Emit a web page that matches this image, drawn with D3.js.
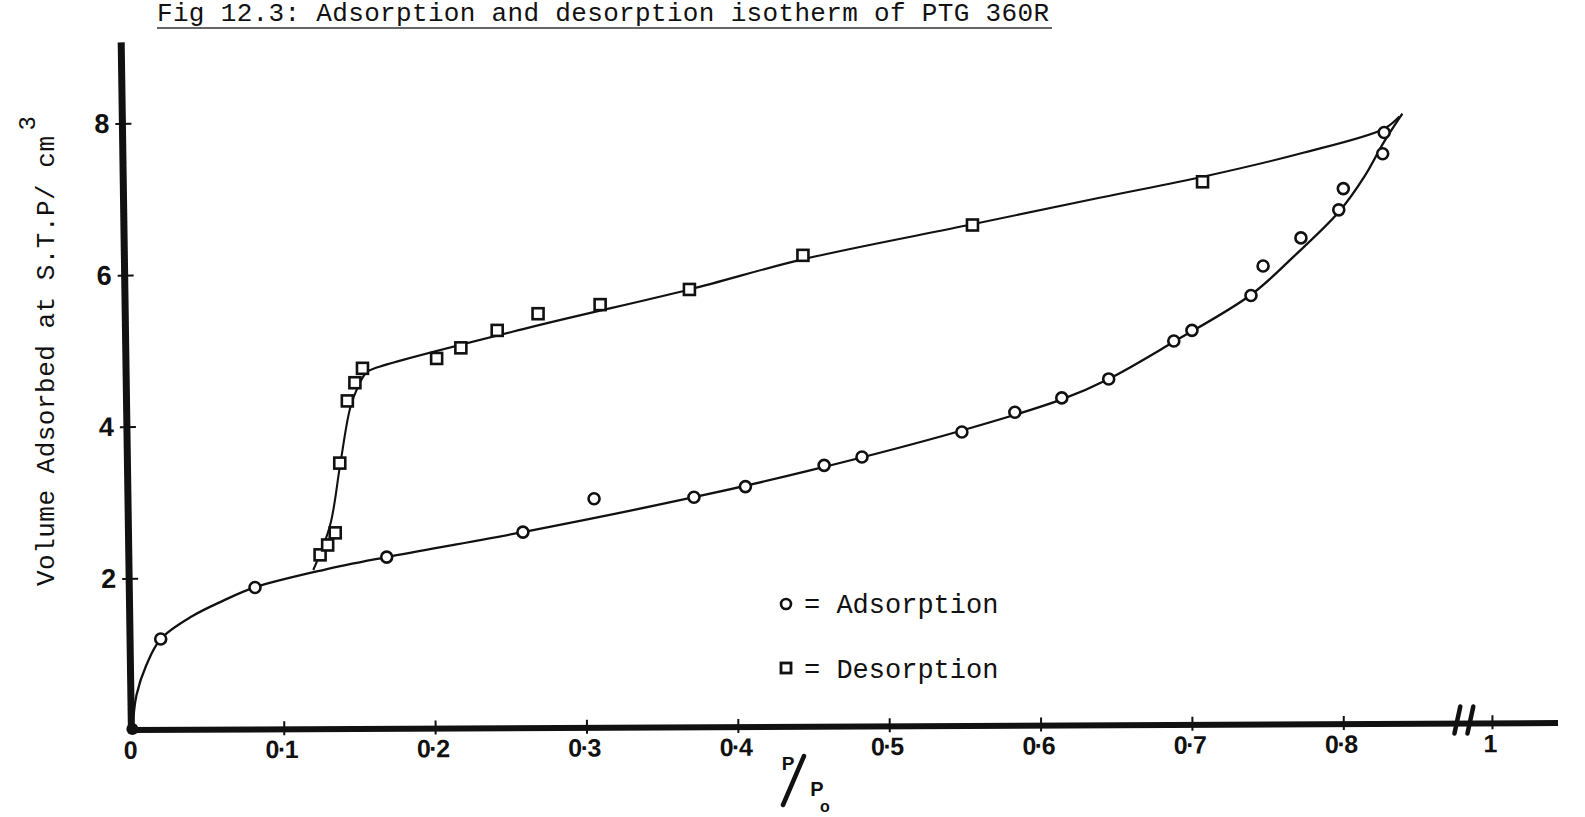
<!DOCTYPE html>
<html>
<head>
<meta charset="utf-8">
<script src="https://cdn.jsdelivr.net/npm/d3@7/dist/d3.min.js"></script>
<style>
  body { margin: 0; background: #fff; }
</style>
</head>
<body>
<div id="chart"></div>
<script>
// measured points, P/Po against volume adsorbed
var adsX = [0.0187, 0.081, 0.168, 0.258, 0.305, 0.371, 0.405, 0.457, 0.482, 0.548, 0.583, 0.614, 0.645, 0.688, 0.700, 0.739, 0.747, 0.772, 0.797, 0.800, 0.826, 0.827];
var adsY = [1.20, 1.88, 2.28, 2.61, 3.05, 3.07, 3.21, 3.49, 3.60, 3.93, 4.19, 4.38, 4.63, 5.13, 5.27, 5.73, 6.12, 6.49, 6.86, 7.14, 7.60, 7.88];

var desX = [0.124, 0.129, 0.134, 0.137, 0.142, 0.147, 0.152, 0.201, 0.217, 0.241, 0.268, 0.309, 0.368, 0.443, 0.555, 0.707];
var desY = [2.31, 2.44, 2.60, 3.52, 4.34, 4.58, 4.77, 4.90, 5.04, 5.27, 5.49, 5.61, 5.81, 6.26, 6.66, 7.23];

// hand drawn curves through the points
var adsCurveX = [0, 0.0027, 0.0093, 0.0187, 0.0394, 0.0594, 0.0808, 0.126, 0.168, 0.258, 0.371, 0.447, 0.548, 0.614, 0.645, 0.688, 0.739, 0.767, 0.797, 0.814, 0.827, 0.839];
var adsCurveY = [0, 0.46, 0.86, 1.20, 1.50, 1.70, 1.88, 2.11, 2.28, 2.61, 3.07, 3.42, 3.95, 4.36, 4.63, 5.12, 5.74, 6.24, 6.83, 7.30, 7.76, 8.13];

var desCurveX = [0.1195, 0.1306, 0.1372, 0.1438, 0.1493, 0.1548, 0.1614, 0.2626, 0.368, 0.4434, 0.555, 0.639, 0.708, 0.771, 0.827, 0.837];
var desCurveY = [2.11, 2.70, 3.49, 4.24, 4.54, 4.72, 4.78, 5.31, 5.81, 6.21, 6.67, 7.02, 7.30, 7.60, 7.93, 8.09];

var xTicks = [0, 0.1, 0.2, 0.3, 0.4, 0.5, 0.6, 0.7, 0.8, 1];
var yTicks = [2, 4, 6, 8];

var width = 1585, height = 817;
var ink = "#111";

var svg = d3.select("#chart")
  .append("svg")
    .attr("width", width)
    .attr("height", height);

// x has a break between 0.88 and 1
var x = d3.scaleLinear()
  .domain([0, 0.88, 1])
  .range([132.4, 1464.4, 1492]);

var y = d3.scaleLinear()
  .domain([0, 8])
  .range([730, 123.4]);

var x0 = x(0), y0 = y(0);

// title
svg.append("text")
  .attr("x", 157)
  .attr("y", 21)
  .attr("font-family", "Liberation Mono, DejaVu Sans Mono, monospace")
  .attr("font-size", 26)
  .attr("textLength", 892)
  .attr("fill", ink)
  .text("Fig 12.3: Adsorption and desorption isotherm of PTG 360R");
svg.append("line")
  .attr("x1", 157).attr("x2", 1052)
  .attr("y1", 28).attr("y2", 28)
  .attr("stroke", "#333")
  .attr("stroke-width", 1.6);

// X axis (scan is tilted a little)
var gx = svg.append("g")
  .attr("transform", "rotate(-0.28," + x0 + "," + y0 + ")");

gx.append("line")
  .attr("x1", x0 - 2).attr("x2", 1558)
  .attr("y1", y0).attr("y2", y0)
  .attr("stroke", ink)
  .attr("stroke-width", 6);

var xAxis = gx.append("g")
  .attr("transform", "translate(0," + y0 + ")")
  .call(d3.axisBottom(x)
    .tickValues(xTicks)
    .tickSizeInner(-8)
    .tickSizeOuter(0)
    .tickPadding(11)
    .tickFormat(function(d) {
      if (d === 0) return "0";
      if (d === 1) return "1";
      return d3.format(".1f")(d).replace(".", "\u00b7");
    }));
xAxis.select(".domain").remove();
xAxis.selectAll(".tick line")
  .attr("stroke", ink)
  .attr("stroke-width", 2)
  .attr("y2", 6)
  .attr("y1", -8);
xAxis.selectAll(".tick text")
  .attr("font-family", "Liberation Sans, Arial, sans-serif")
  .attr("font-weight", "bold")
  .attr("font-size", 25)
  .attr("letter-spacing", -1.5)
  .attr("dx", -3)
  .attr("fill", ink);
xAxis.selectAll(".tick").filter(function(d) { return d === 0; }).select("line").remove();

// axis break marks
var xb = x(0.88);
[-7, 6].forEach(function(off) {
  gx.append("line")
    .attr("x1", xb + off - 3).attr("x2", xb + off + 3)
    .attr("y1", y0 + 10).attr("y2", y0 - 17)
    .attr("stroke", ink)
    .attr("stroke-width", 4.5)
    .attr("stroke-linecap", "round");
});

// Y axis
var gy = svg.append("g")
  .attr("transform", "rotate(-0.85," + x0 + "," + y0 + ")");

gy.append("line")
  .attr("x1", x0 - 1).attr("x2", x0 - 1)
  .attr("y1", y0 + 3).attr("y2", y(9.07))
  .attr("stroke", ink)
  .attr("stroke-width", 7);

var yAxis = gy.append("g")
  .attr("transform", "translate(" + (x0 - 1) + ",0)")
  .call(d3.axisLeft(y)
    .tickValues(yTicks)
    .tickSizeInner(7)
    .tickSizeOuter(0)
    .tickPadding(6)
    .tickFormat(d3.format("d")));
yAxis.select(".domain").remove();
yAxis.selectAll(".tick line")
  .attr("stroke", ink)
  .attr("stroke-width", 2)
  .attr("x2", 9)
  .attr("x1", -7);
yAxis.selectAll(".tick text")
  .attr("font-family", "Liberation Sans, Arial, sans-serif")
  .attr("font-weight", "bold")
  .attr("font-size", 27)
  .attr("fill", ink);

// Y axis title
var yt = svg.append("text")
  .attr("transform", "translate(54,586) rotate(-90)")
  .attr("font-family", "Liberation Mono, DejaVu Sans Mono, monospace")
  .attr("font-size", 26)
  .attr("fill", ink);
yt.append("tspan").attr("textLength", 450).text("Volume Adsorbed at S.T.P/ cm");
yt.append("tspan")
  .attr("dx", 5)
  .attr("dy", -19)
  .attr("font-size", 24)
  .text("3");

// X axis title P/Po
var pg = svg.append("g")
  .attr("font-family", "Liberation Sans, Arial, sans-serif")
  .attr("font-weight", "bold")
  .attr("fill", ink);
pg.append("text").attr("x", 788).attr("y", 770).attr("text-anchor", "middle")
  .attr("font-size", 19).text("P");
pg.append("line")
  .attr("x1", 783).attr("y1", 805).attr("x2", 804).attr("y2", 756)
  .attr("stroke", ink).attr("stroke-width", 4.5).attr("stroke-linecap", "round");
pg.append("text").attr("x", 817).attr("y", 796).attr("text-anchor", "middle")
  .attr("font-size", 20).text("P");
pg.append("text").attr("x", 825).attr("y", 812).attr("text-anchor", "middle")
  .attr("font-size", 16).text("o");

// curves
var adsCurve = adsCurveX.map(function(d, i) { return [d, adsCurveY[i]]; });
var desCurve = desCurveX.map(function(d, i) { return [d, desCurveY[i]]; });

var line = d3.line()
  .x(function(d) { return x(d[0]); })
  .y(function(d) { return y(d[1]); })
  .curve(d3.curveCatmullRom.alpha(0.5));

svg.append("path")
  .datum(adsCurve)
  .attr("fill", "none")
  .attr("stroke", ink)
  .attr("stroke-width", 2.3)
  .attr("d", line);

svg.append("path")
  .datum(desCurve)
  .attr("fill", "none")
  .attr("stroke", ink)
  .attr("stroke-width", 2.1)
  .attr("d", line);

// origin dot
svg.append("circle")
  .attr("cx", x0).attr("cy", y0 - 1).attr("r", 6)
  .attr("fill", ink);

// adsorption points
var ads = adsX.map(function(d, i) { return {x: d, y: adsY[i]}; });
svg.append("g").selectAll("circle")
  .data(ads)
  .enter().append("circle")
    .attr("cx", function(d) { return x(d.x); })
    .attr("cy", function(d) { return y(d.y); })
    .attr("r", 5.5)
    .attr("fill", "#fff")
    .attr("stroke", ink)
    .attr("stroke-width", 2.6);

// desorption points
var des = desX.map(function(d, i) { return {x: d, y: desY[i]}; });
svg.append("g").selectAll("rect")
  .data(des)
  .enter().append("rect")
    .attr("x", function(d) { return x(d.x) - 5.5; })
    .attr("y", function(d) { return y(d.y) - 5.5; })
    .attr("width", 11)
    .attr("height", 11)
    .attr("fill", "#fff")
    .attr("stroke", ink)
    .attr("stroke-width", 2.6);

// legend
var legend = svg.append("g")
  .attr("font-family", "Liberation Mono, DejaVu Sans Mono, monospace")
  .attr("font-size", 27)
  .attr("fill", ink);
legend.append("circle")
  .attr("cx", 786).attr("cy", 604).attr("r", 5)
  .attr("fill", "#fff").attr("stroke", ink).attr("stroke-width", 2.6);
legend.append("text").attr("x", 804).attr("y", 613).text("= Adsorption");
legend.append("rect")
  .attr("x", 781).attr("y", 663).attr("width", 10).attr("height", 10)
  .attr("fill", "#fff").attr("stroke", ink).attr("stroke-width", 2.8);
legend.append("text").attr("x", 804).attr("y", 678).text("= Desorption");
</script>
</body>
</html>
